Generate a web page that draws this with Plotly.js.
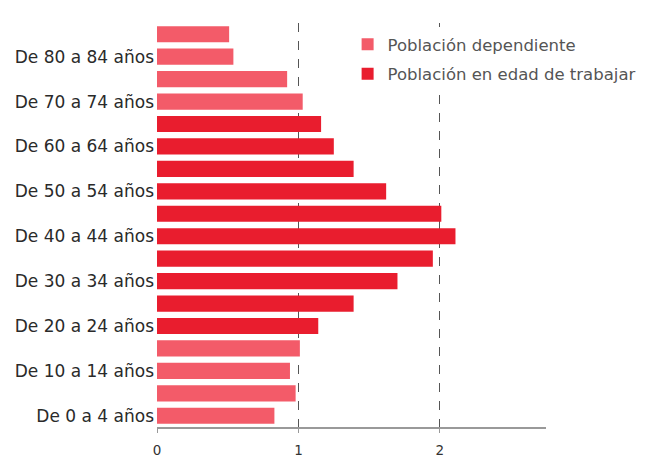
<!DOCTYPE html>
<html><head><meta charset="utf-8">
<script src="https://cdn.plot.ly/plotly-3.0.1.min.js"></script>
<style>body{margin:0;background:#fff}#c{width:646px;height:459px}</style>
</head><body><div id="c"></div>
<script>
const categories = ["De 0 a 4 años","De 5 a 9 años","De 10 a 14 años","De 15 a 19 años","De 20 a 24 años","De 25 a 29 años","De 30 a 34 años","De 35 a 39 años","De 40 a 44 años","De 45 a 49 años","De 50 a 54 años","De 55 a 59 años","De 60 a 64 años","De 65 a 69 años","De 70 a 74 años","De 75 a 79 años","De 80 a 84 años","De 85 y más años"];
const values = [0.83,0.98,0.94,1.01,1.14,1.39,1.70,1.95,2.11,2.01,1.62,1.39,1.25,1.16,1.03,0.92,0.54,0.51];
const isWorking = [0,0,0,0,1,1,1,1,1,1,1,1,1,1,0,0,0,0];
const tickLabels = ["De 0 a 4 años","De 10 a 14 años","De 20 a 24 años","De 30 a 34 años","De 40 a 44 años","De 50 a 54 años","De 60 a 64 años","De 70 a 74 años","De 80 a 84 años"];
const seriesNames = ["Población dependiente","Población en edad de trabajar"];
const colors = ["#f35b69","#e91d2e"];

const traces = [0,1].map(k => {
  const y = [], x = [];
  categories.forEach((c,i) => { if (isWorking[i] === k) { y.push(c); x.push(values[i]); } });
  return {type:'bar', orientation:'h', x, y, name: seriesNames[k], legendgroup:'g'+k, marker:{color: colors[k]}, hoverinfo:'x+y'};
});

const layout = {
  width:646, height:459,
  margin:{l:157, r:100, t:23, b:32, autoexpand:false},
  paper_bgcolor:'#fff', plot_bgcolor:'#fff',
  barmode:'overlay', bargap:0.28,
  font:{family:'DejaVu Sans, sans-serif', color:'#222'},
  xaxis:{range:[0,2.75], tickvals:[0,1,2], showgrid:true, gridcolor:'#555', griddash:'dash', gridwidth:1,
         zeroline:false, showline:true, linecolor:'#999', linewidth:2, ticks:'outside', ticklen:4, tickcolor:'#999',
         ticklabelstandoff:6, tickfont:{size:13.5, color:'#333'}, automargin:false},
  yaxis:{type:'category', categoryorder:'array', categoryarray:categories, tickvals:tickLabels, ticktext:tickLabels,
         showgrid:false, showline:false, zeroline:false, ticks:'', ticklabelstandoff:2, tickfont:{size:17, color:'#2a2a2a'}, automargin:false},
  legend:{x:0.49, y:0.99, xanchor:'left', yanchor:'top', font:{size:16.5, color:'#555'}, bgcolor:'#fff',
          traceorder:'grouped', tracegroupgap:5, itemwidth:30},
  showlegend:true
};
Plotly.newPlot('c', traces, layout, {displayModeBar:false, staticPlot:true});
</script></body></html>
